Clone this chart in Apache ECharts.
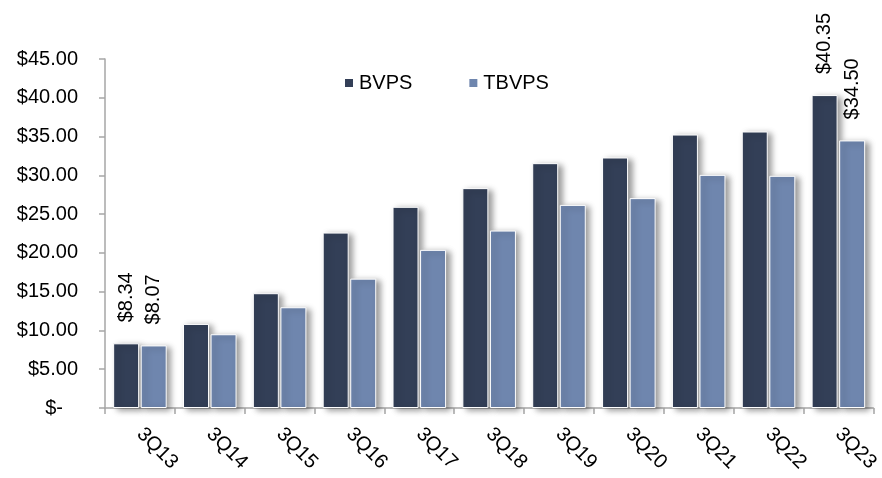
<!DOCTYPE html>
<html>
<head>
<meta charset="utf-8">
<script src="https://cdn.jsdelivr.net/npm/echarts@6/dist/echarts.min.js"></script>
<style>
  html, body { margin: 0; padding: 0; background: #fff; }
  #chart { width: 882px; height: 478px; }
</style>
</head>
<body>
<div id="chart"></div>
<script>
// quarters on the x axis
const quarters = ["3Q13", "3Q14", "3Q15", "3Q16", "3Q17", "3Q18", "3Q19", "3Q20", "3Q21", "3Q22", "3Q23"];
// book value per share
const bvps = [8.34, 10.84, 14.80, 22.62, 25.94, 28.35, 31.57, 32.30, 35.26, 35.65, 40.35];
// tangible book value per share
const tbvps = [8.07, 9.51, 12.99, 16.68, 20.39, 22.88, 26.19, 27.06, 30.06, 29.94, 34.50];

const font = "Liberation Sans";
const textColor = "#000";
const fs = 20;

// only the first and last bars get a value label
function withEndLabels(values) {
  return values.map((v, i) => {
    const show = i === 0 || i === values.length - 1;
    return { value: v, label: { show: show } };
  });
}

function money(v) {
  return "$" + v.toFixed(2);
}

const chart = echarts.init(document.getElementById("chart"));

const barStyle = (color) => ({
  color: color,
  borderColor: "#fff",
  borderWidth: 1,
  shadowColor: "rgba(0,0,0,0.4)",
  shadowBlur: 6,
  shadowOffsetX: 4,
  shadowOffsetY: 2
});

const labelStyle = {
  position: "top",
  rotate: 90,
  align: "left",
  verticalAlign: "middle",
  distance: 21,
  color: textColor,
  fontFamily: font,
  fontSize: fs,
  formatter: (p) => money(p.value)
};

chart.setOption({
  backgroundColor: "#fff",
  animation: false,
  legend: {
    left: 338,
    top: 68,
    itemWidth: 10,
    itemHeight: 10,
    itemGap: 55,
    icon: "rect",
    textStyle: { color: textColor, fontFamily: font, fontSize: fs },
    data: ["BVPS", "TBVPS"]
  },
  grid: {
    left: 105,
    right: 5,
    top: 59,
    bottom: 70
  },
  xAxis: {
    type: "category",
    data: quarters,
    axisLine: { lineStyle: { color: "#a6a6a6", width: 1.5 } },
    axisTick: { show: true, length: 6, lineStyle: { color: "#a6a6a6", width: 1.5 } },
    axisLabel: {
      rotate: -45,
      margin: 23,
      color: textColor,
      fontFamily: font,
      fontSize: fs
    }
  },
  yAxis: {
    type: "value",
    min: 0,
    max: 45,
    interval: 5,
    splitLine: { show: false },
    axisLine: { show: true, lineStyle: { color: "#a6a6a6", width: 1.5 } },
    axisTick: { show: true, length: 6, lineStyle: { color: "#a6a6a6", width: 1.5 } },
    axisLabel: {
      margin: 27,
      color: textColor,
      fontFamily: font,
      fontSize: fs,
      formatter: (v) => (v === 0 ? "{z|$-}" : money(v)),
      rich: {
        z: { color: textColor, fontFamily: font, fontSize: fs, padding: [0, 15, 0, 0] }
      }
    }
  },
  series: [
    {
      name: "BVPS",
      type: "bar",
      barWidth: 26,
      barGap: "6%",
      data: withEndLabels(bvps),
      itemStyle: barStyle("#333f57"),
      label: labelStyle
    },
    {
      name: "TBVPS",
      type: "bar",
      barWidth: 26,
      data: withEndLabels(tbvps),
      itemStyle: barStyle("#6f86ae"),
      label: labelStyle
    }
  ]
});
</script>
</body>
</html>
